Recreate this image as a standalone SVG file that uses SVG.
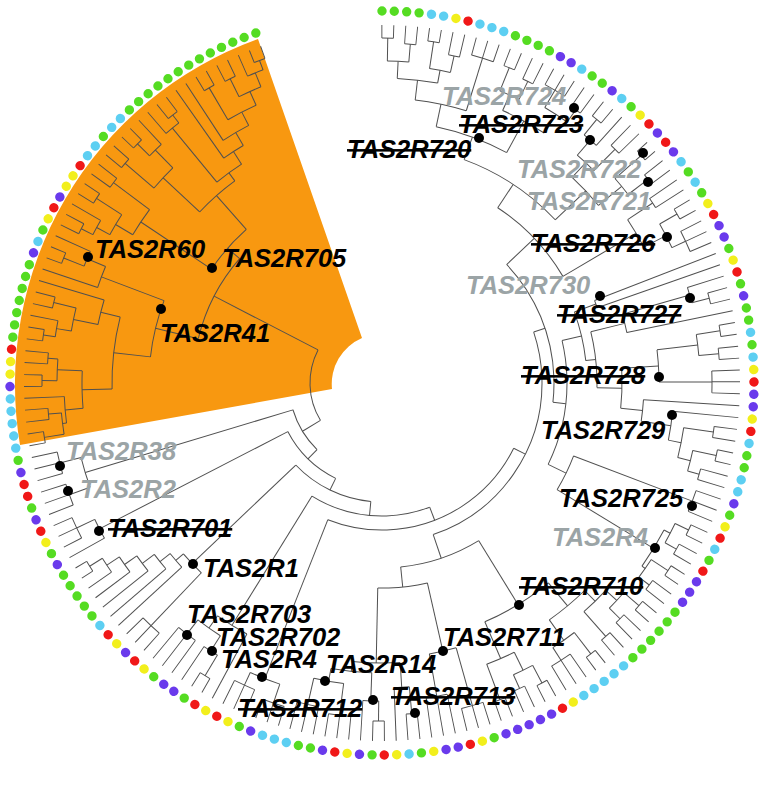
<svg xmlns="http://www.w3.org/2000/svg" width="772" height="791" viewBox="0 0 772 791">
<style>
text{font-family:"Liberation Sans",Arial,sans-serif;font-weight:bold;font-style:italic;font-size:25.5px}
.k{fill:#000}
.g{fill:#9ba4a6}
.s{text-decoration:line-through}
.nd{fill:#000}
#connectors{fill:none;stroke:#505050;stroke-width:1}
#tips circle{fill:none;stroke-width:9.4;stroke-linecap:round}
</style>
<rect width="772" height="791" fill="#fff"/>
<path id="clade-highlight" d="M20 445A367 367 0 0 1 258 39L362 338A50 50 0 0 0 332 389Z" fill="#f89810"/>
<g id="connectors" transform="translate(382 383) rotate(-91.911)">
<g id="arcs">
<circle r="345" pathLength="188.383" stroke-dasharray="0 1 1 3 1 20 1 98 1 52 1 999"/>
<circle r="342" pathLength="188.383" stroke-dasharray="0 43 1 10 1 10 1 9 1 35 1 25 1 8 1 6 1 11 1 7 1 999"/>
<circle r="340" pathLength="188.383" stroke-dasharray="0 3 1 5 2 1 1 3 2 3 1 10 1 28 1 7 1 10 1 61 1 16 1 9 1 5 1 999"/>
<circle r="338" pathLength="188.383" stroke-dasharray="0 40 1 4 1 17 1 9 1 10 1 10 1 8 2 22 2 19 1 6 1 6 1 999"/>
<circle r="335" pathLength="188.383" stroke-dasharray="0 7 1 6 1 4 1 8 1 5 2 16 1 14 1 3 1 10 1 3 2 10 2 17 2 20 1 4 1 16 1 15 1.5 999"/>
<circle r="332" pathLength="188.383" stroke-dasharray="0 58 2 32 1 14 2 22 2 1 2 999"/>
<circle r="330" pathLength="188.383" stroke-dasharray="0 24 1 22 2 7 1 20 2 22 2 21 1.5 21 1.5 20 1.5 999"/>
<circle r="325" pathLength="188.383" stroke-dasharray="0 30 1 30.5 2 79 2 12 1.5 7.5 1.5 999"/>
<circle r="322" pathLength="188.383" stroke-dasharray="0 1.5 2 62 2 70 2 999"/>
<circle r="320" pathLength="188.383" stroke-dasharray="0 17 2.5 2 1.5 9.5 2.5 4 1.5 29 2 9 2 71 1.5 20.5 2.25 999"/>
<circle r="318" pathLength="188.383" stroke-dasharray="0 5.5 2 36 2 9 2 6 4 22.5 2 4.5 1.5 8 3 3.5 1.5 1 2 11 2 9.5 2.5 999"/>
<circle r="315" pathLength="188.383" stroke-dasharray="0 12.5 2 61 2.5 45 1.75 22.5 2.25 999"/>
<circle r="310" pathLength="188.383" stroke-dasharray="0 26.5 2 103.5 3 22.25 2.25 999"/>
<circle r="305" pathLength="188.383" stroke-dasharray="0 2.5 4 46 3 15 3 19 1.5 79.5 3.125 999"/>
<circle r="303" pathLength="188.383" stroke-dasharray="0 99 3 999"/>
<circle r="300" pathLength="188.383" stroke-dasharray="0 22.25 2.25 57 3 27.75 2.75 7 1.875 15.875 3.75 8.5 2.25 9.25 2.75 999"/>
<circle r="298" pathLength="188.383" stroke-dasharray="0 13.5 4.75 999"/>
<circle r="295" pathLength="188.383" stroke-dasharray="0 30.5 3.25 999"/>
<circle r="292" pathLength="188.383" stroke-dasharray="0 51 3 999"/>
<circle r="290" pathLength="188.383" stroke-dasharray="0 72 4.75 19.5 4.25 47.875 2.625 7.375 3.125 10.5 3.0625 999"/>
<circle r="285" pathLength="188.383" stroke-dasharray="0 4.5 5.5 100 3.625 7.375 1.9375 999"/>
<circle r="280" pathLength="188.383" stroke-dasharray="0 23.375 4.125 65.75 5.125 999"/>
<circle r="277" pathLength="188.383" stroke-dasharray="0 44.5 3.5 999"/>
<circle r="275" pathLength="188.383" stroke-dasharray="0 87 3 81 2.53 999"/>
<circle r="272" pathLength="188.383" stroke-dasharray="0 120 1.97 999"/>
<circle r="270" pathLength="188.383" stroke-dasharray="0 141.625 8.0625 999"/>
<circle r="262" pathLength="188.383" stroke-dasharray="0 7.25 8.625 34.125 2.5 65.5 2.985 999"/>
<circle r="260" pathLength="188.383" stroke-dasharray="0 74.375 8.625 85.75 3.52 999"/>
<circle r="250" pathLength="188.383" stroke-dasharray="0 39.75 2.25 122.875 5.635 999"/>
<circle r="240" pathLength="188.383" stroke-dasharray="0 46.25 5 999"/>
<circle r="238" pathLength="188.383" stroke-dasharray="0 11.5625 13.875 999"/>
<circle r="233" pathLength="188.383" stroke-dasharray="0 145.656 7.469 999"/>
<circle r="228" pathLength="188.383" stroke-dasharray="0 37 1 999"/>
<circle r="215" pathLength="188.383" stroke-dasharray="0 40.875 7.875 999"/>
<circle r="210" pathLength="188.383" stroke-dasharray="0 18.5 13.625 999"/>
<circle r="205" pathLength="188.383" stroke-dasharray="0 37.5 7.3125 14.1875 5.5 24 7.3125 64.125 7.7525 999"/>
<circle r="189" pathLength="188.383" stroke-dasharray="0 149.39 14.42 999"/>
<circle r="185" pathLength="188.383" stroke-dasharray="0 41.156 20.594 16.9375 13.4685 999"/>
<circle r="172" pathLength="188.383" stroke-dasharray="0 25.3125 26.14 999"/>
<circle r="160" pathLength="188.383" stroke-dasharray="0 38.38 47.04 999"/>
<circle r="147" pathLength="188.383" stroke-dasharray="0 61.9 44.6 999"/>
<circle r="133" pathLength="188.383" stroke-dasharray="0 84.2 27.6125 999"/>
<circle r="119" pathLength="188.383" stroke-dasharray="0 98.01 21.48 999"/>
<circle r="106" pathLength="188.383" stroke-dasharray="0 108.75 19.25 999"/>
<circle r="93" pathLength="188.383" stroke-dasharray="0 118.375 15.125 999"/>
<circle r="72" pathLength="188.383" stroke-dasharray="0 125.94 30.66 999"/>
</g>
<g id="stems">
<path d="M322 0H345" transform="rotate(2.867)"/>
<path d="M322 0H340" transform="rotate(6.689)"/>
<path d="M305 0H322" transform="rotate(4.778)"/>
<path d="M318 0H345" transform="rotate(10.511)"/>
<path d="M318 0H335" transform="rotate(14.333)"/>
<path d="M305 0H318" transform="rotate(12.422)"/>
<path d="M285 0H305" transform="rotate(8.6)"/>
<path d="M285 0H340" transform="rotate(19.11)"/>
<path d="M262 0H285" transform="rotate(13.855)"/>
<path d="M315 0H340" transform="rotate(23.888)"/>
<path d="M315 0H335" transform="rotate(27.71)"/>
<path d="M298 0H315" transform="rotate(25.799)"/>
<path d="M320 0H340" transform="rotate(32.487)"/>
<path d="M320 0H335" transform="rotate(37.265)"/>
<path d="M298 0H320" transform="rotate(34.876)"/>
<path d="M262 0H298" transform="rotate(30.337)"/>
<path d="M238 0H262" transform="rotate(22.096)"/>
<path d="M320 0H340" transform="rotate(41.087)"/>
<path d="M300 0H320" transform="rotate(42.52)"/>
<path d="M300 0H330" transform="rotate(46.82)"/>
<path d="M280 0H300" transform="rotate(44.67)"/>
<path d="M310 0H345" transform="rotate(50.642)"/>
<path d="M310 0H335" transform="rotate(54.464)"/>
<path d="M280 0H310" transform="rotate(52.553)"/>
<path d="M238 0H280" transform="rotate(48.611)"/>
<path d="M210 0H238" transform="rotate(35.354)"/>
<path d="M295 0H325" transform="rotate(58.286)"/>
<path d="M320 0H340" transform="rotate(62.108)"/>
<path d="M320 0H335" transform="rotate(66.885)"/>
<path d="M295 0H320" transform="rotate(64.496)"/>
<path d="M210 0H295" transform="rotate(61.391)"/>
<path d="M172 0H210" transform="rotate(48.372)"/>
<path d="M205 0H228" transform="rotate(71.663)"/>
<path d="M320 0H338" transform="rotate(77.396)"/>
<path d="M250 0H320" transform="rotate(75.962)"/>
<path d="M215 0H250" transform="rotate(78.112)"/>
<path d="M318 0H342" transform="rotate(83.129)"/>
<path d="M318 0H338" transform="rotate(86.951)"/>
<path d="M277 0H318" transform="rotate(85.04)"/>
<path d="M277 0H330" transform="rotate(91.728)"/>
<path d="M240 0H277" transform="rotate(88.384)"/>
<path d="M305 0H335" transform="rotate(100.328)"/>
<path d="M318 0H342" transform="rotate(104.15)"/>
<path d="M318 0H330" transform="rotate(107.972)"/>
<path d="M305 0H318" transform="rotate(106.061)"/>
<path d="M292 0H305" transform="rotate(103.194)"/>
<path d="M262 0H292" transform="rotate(100.328)"/>
<path d="M240 0H262" transform="rotate(97.939)"/>
<path d="M215 0H240" transform="rotate(93.161)"/>
<path d="M205 0H215" transform="rotate(85.637)"/>
<path d="M185 0H205" transform="rotate(78.649)"/>
<path d="M205 0H332" transform="rotate(112.749)"/>
<path d="M325 0H340" transform="rotate(117.527)"/>
<path d="M325 0H338" transform="rotate(121.349)"/>
<path d="M318 0H325" transform="rotate(119.438)"/>
<path d="M322 0H342" transform="rotate(125.171)"/>
<path d="M322 0H335" transform="rotate(128.993)"/>
<path d="M318 0H322" transform="rotate(127.082)"/>
<path d="M205 0H318" transform="rotate(123.26)"/>
<path d="M185 0H205" transform="rotate(118.004)"/>
<path d="M172 0H185" transform="rotate(98.327)"/>
<path d="M320 0H340" transform="rotate(132.815)"/>
<path d="M320 0H335" transform="rotate(136.637)"/>
<path d="M305 0H320" transform="rotate(134.726)"/>
<path d="M305 0H338" transform="rotate(140.459)"/>
<path d="M290 0H305" transform="rotate(137.592)"/>
<path d="M315 0H342" transform="rotate(144.281)"/>
<path d="M315 0H330" transform="rotate(149.058)"/>
<path d="M290 0H315" transform="rotate(146.669)"/>
<path d="M260 0H290" transform="rotate(142.13)"/>
<path d="M320 0H340" transform="rotate(153.836)"/>
<path d="M320 0H335" transform="rotate(157.658)"/>
<path d="M300 0H320" transform="rotate(155.747)"/>
<path d="M300 0H338" transform="rotate(161.48)"/>
<path d="M260 0H300" transform="rotate(158.613)"/>
<path d="M185 0H260" transform="rotate(150.371)"/>
<path d="M275 0H335" transform="rotate(166.257)"/>
<path d="M275 0H318" transform="rotate(171.99)"/>
<path d="M205 0H275" transform="rotate(169.124)"/>
<path d="M305 0H332" transform="rotate(176.768)"/>
<path d="M280 0H305" transform="rotate(178.2)"/>
<path d="M318 0H338" transform="rotate(182.501)"/>
<path d="M290 0H318" transform="rotate(183.934)"/>
<path d="M303 0H335" transform="rotate(189.189)"/>
<path d="M303 0H330" transform="rotate(194.922)"/>
<path d="M290 0H303" transform="rotate(192.056)"/>
<path d="M280 0H290" transform="rotate(187.995)"/>
<path d="M205 0H280" transform="rotate(183.098)"/>
<path d="M185 0H205" transform="rotate(176.11)"/>
<path d="M160 0H185" transform="rotate(163.238)"/>
<path d="M318 0H338" transform="rotate(200.655)"/>
<path d="M318 0H332" transform="rotate(206.388)"/>
<path d="M147 0H318" transform="rotate(203.522)"/>
<path d="M318 0H342" transform="rotate(213.077)"/>
<path d="M300 0H318" transform="rotate(214.51)"/>
<path d="M300 0H318" transform="rotate(219.765)"/>
<path d="M285 0H300" transform="rotate(217.137)"/>
<path d="M133 0H285" transform="rotate(213.674)"/>
<path d="M262 0H335" transform="rotate(225.498)"/>
<path d="M330 0H345" transform="rotate(239.831)"/>
<path d="M315 0H330" transform="rotate(238.397)"/>
<path d="M300 0H315" transform="rotate(236.725)"/>
<path d="M285 0H300" transform="rotate(234.934)"/>
<path d="M272 0H285" transform="rotate(233.085)"/>
<path d="M262 0H272" transform="rotate(231.202)"/>
<path d="M119 0H262" transform="rotate(228.345)"/>
<path d="M318 0H338" transform="rotate(246.519)"/>
<path d="M106 0H318" transform="rotate(244.608)"/>
<path d="M310 0H332" transform="rotate(252.252)"/>
<path d="M310 0H332" transform="rotate(257.985)"/>
<path d="M93 0H310" transform="rotate(255.119)"/>
<path d="M322 0H342" transform="rotate(262.763)"/>
<path d="M322 0H335" transform="rotate(266.585)"/>
<path d="M318 0H322" transform="rotate(264.674)"/>
<path d="M300 0H318" transform="rotate(267.062)"/>
<path d="M325 0H340" transform="rotate(272.318)"/>
<path d="M325 0H335" transform="rotate(276.14)"/>
<path d="M300 0H325" transform="rotate(274.229)"/>
<path d="M270 0H300" transform="rotate(270.645)"/>
<path d="M330 0H342" transform="rotate(279.962)"/>
<path d="M315 0H330" transform="rotate(281.395)"/>
<path d="M315 0H338" transform="rotate(285.695)"/>
<path d="M290 0H315" transform="rotate(283.545)"/>
<path d="M270 0H290" transform="rotate(286.053)"/>
<path d="M233 0H270" transform="rotate(278.349)"/>
<path d="M320 0H342" transform="rotate(293.339)"/>
<path d="M300 0H320" transform="rotate(294.772)"/>
<path d="M233 0H300" transform="rotate(292.622)"/>
<path d="M189 0H233" transform="rotate(285.484)"/>
<path d="M325 0H338" transform="rotate(299.072)"/>
<path d="M310 0H325" transform="rotate(300.505)"/>
<path d="M310 0H340" transform="rotate(304.805)"/>
<path d="M290 0H310" transform="rotate(302.655)"/>
<path d="M290 0H335" transform="rotate(308.627)"/>
<path d="M205 0H290" transform="rotate(305.641)"/>
<path d="M300 0H338" transform="rotate(312.449)"/>
<path d="M325 0H342" transform="rotate(316.271)"/>
<path d="M300 0H325" transform="rotate(317.704)"/>
<path d="M250 0H300" transform="rotate(315.076)"/>
<path d="M330 0H340" transform="rotate(323.915)"/>
<path d="M260 0H330" transform="rotate(322.481)"/>
<path d="M320 0H340" transform="rotate(335.381)"/>
<path d="M335 0H345" transform="rotate(341.114)"/>
<path d="M320 0H335" transform="rotate(339.68)"/>
<path d="M305 0H320" transform="rotate(337.53)"/>
<path d="M305 0H342" transform="rotate(331.559)"/>
<path d="M290 0H305" transform="rotate(334.544)"/>
<path d="M275 0H290" transform="rotate(331.616)"/>
<path d="M260 0H275" transform="rotate(329.208)"/>
<path d="M250 0H260" transform="rotate(325.845)"/>
<path d="M205 0H250" transform="rotate(320.456)"/>
<path d="M189 0H205" transform="rotate(313.041)"/>
<path d="M72 0H189" transform="rotate(299.263)"/>
<path d="M160 0H172" transform="rotate(73.344)"/>
<path d="M147 0H160" transform="rotate(118.291)"/>
<path d="M133 0H147" transform="rotate(160.906)"/>
<path d="M119 0H133" transform="rotate(187.297)"/>
<path d="M106 0H119" transform="rotate(207.821)"/>
<path d="M93 0H106" transform="rotate(226.215)"/>
<path d="M72 0H93" transform="rotate(240.671)"/>
</g>
<g id="leaf-branches">
<path d="M228 0H358" transform="rotate(70.707)"/>
<path d="M228 0H358" transform="rotate(72.618)"/>
<path d="M250 0H358" transform="rotate(80.262)"/>
<path d="M262 0H358" transform="rotate(95.55)"/>
<path d="M292 0H358" transform="rotate(97.461)"/>
<path d="M305 0H358" transform="rotate(179.634)"/>
<path d="M285 0H358" transform="rotate(210.21)"/>
<path d="M272 0H358" transform="rotate(229.32)"/>
<path d="M285 0H358" transform="rotate(231.231)"/>
<path d="M300 0H358" transform="rotate(233.142)"/>
<path d="M315 0H358" transform="rotate(235.053)"/>
<path d="M290 0H358" transform="rotate(288.561)"/>
<path d="M300 0H358" transform="rotate(290.472)"/>
<path d="M275 0H358" transform="rotate(326.781)"/>
<path d="M290 0H358" transform="rotate(328.692)"/>
<circle r="351.5" stroke-width="13" pathLength="188.383" stroke-dasharray="0 0.96 .08 .92 .08 2.92 .08 .92 .08 19.92 .08 .92 .08 97.92 .08 .92 .08 51.92 .08 .92 .08 999"/>
<circle r="350" stroke-width="16" pathLength="188.383" stroke-dasharray="0 42.96 .08 .92 .08 9.92 .08 .92 .08 9.92 .08 .92 .08 8.92 .08 .92 .08 34.92 .08 .92 .08 24.92 .08 .92 .08 7.92 .08 .92 .08 5.92 .08 .92 .08 10.92 .08 .92 .08 6.92 .08 .92 .08 999"/>
<circle r="349" stroke-width="18" pathLength="188.383" stroke-dasharray="0 2.96 .08 .92 .08 4.92 .08 .92 .08 .92 .08 .92 .08 .92 .08 2.92 .08 .92 .08 .92 .08 2.92 .08 .92 .08 9.92 .08 .92 .08 27.92 .08 .92 .08 6.92 .08 .92 .08 9.92 .08 .92 .08 60.92 .08 .92 .08 15.92 .08 .92 .08 8.92 .08 .92 .08 4.92 .08 .92 .08 999"/>
<circle r="348" stroke-width="20" pathLength="188.383" stroke-dasharray="0 39.96 .08 .92 .08 3.92 .08 .92 .08 16.92 .08 .92 .08 8.92 .08 .92 .08 9.92 .08 .92 .08 9.92 .08 .92 .08 7.92 .08 .92 .08 .92 .08 21.92 .08 .92 .08 .92 .08 18.92 .08 .92 .08 5.92 .08 .92 .08 5.92 .08 .92 .08 999"/>
<circle r="346.5" stroke-width="23" pathLength="188.383" stroke-dasharray="0 6.96 .08 .92 .08 5.92 .08 .92 .08 3.92 .08 .92 .08 7.92 .08 .92 .08 4.92 .08 .92 .08 .92 .08 15.92 .08 .92 .08 13.92 .08 .92 .08 2.92 .08 .92 .08 9.92 .08 .92 .08 2.92 .08 .92 .08 .92 .08 9.92 .08 .92 .08 .92 .08 16.92 .08 .92 .08 .92 .08 19.92 .08 .92 .08 3.92 .08 .92 .08 15.92 .08 .92 .08 14.92 .08 999"/>
<circle r="345" stroke-width="26" pathLength="188.383" stroke-dasharray="0 57.96 .08 .92 .08 .92 .08 31.92 .08 .92 .08 13.92 .08 .92 .08 .92 .08 21.92 .08 .92 .08 .92 .08 .92 .08 .92 .08 .92 .08 999"/>
<circle r="344" stroke-width="28" pathLength="188.383" stroke-dasharray="0 23.96 .08 .92 .08 21.92 .08 .92 .08 .92 .08 6.92 .08 .92 .08 19.92 .08 .92 .08 .92 .08 21.92 .08 .92 .08 .92 .08 20.92 .08 23.92 .08 19.92 .08 999"/>
<circle r="341.5" stroke-width="33" pathLength="188.383" stroke-dasharray="0 29.96 .08 .92 .08 126.92 .08 8.92 .08 999"/>
<circle r="339" stroke-width="38" pathLength="188.383" stroke-dasharray="0 22.96 .08 15.92 .08 115.92 .08 999"/>
<circle r="338" stroke-width="40" pathLength="188.383" stroke-dasharray="0 88.96 .08 .92 .08 .92 .08 5.92 .08 15.92 .08 .92 .08 .92 .08 .92 .08 10.92 .08 13.92 .08 999"/>
</g>
</g>
<g id="tips" transform="translate(382 383) rotate(-91.911)">
<circle r="372" stroke="#55dc22" pathLength="188.383" transform="rotate(1.911)" stroke-dasharray="0 1 0 1 0 1 0 8 0 1 0 1 0 1 0 4 0 1 0 3 0 7 0 2 0 5 0 3 0 2 0 1 0 2 0 9 0 1 0 4 0 4 0 5 0 1 0 1 0 1 0 1 0 1 0 13 0 6 0 4 0 5 0 1 0 5 0 5 0 3 0 7 0 1 0 1 0 1 0 1 0 2 0 4 0 4 0 10 0 1 0 1 0 1 0 1 0 1 0 1 0 3 0 9 0 3 0 1 0 1 0 1 0 1 0 1 0 1 0 1 0 1 0 1 0 1 0 1 0 1 0 999"/>
<circle r="372" stroke="#5dcff2" pathLength="188.383" transform="rotate(9.555)" stroke-dasharray="0 1 0 3 0 1 0 1 0 7 0 4 0 7 0 2 0 13 0 2 0 7 0 3 0 1 0 5 0 12 0 1 0 1 0 1 0 1 0 15 0 10 0 1 0 1 0 16 0 16 0 1 0 1 0 1 0 1 0 13 0 8 0 1 0 2 0 1 0 999"/>
<circle r="372" stroke="#f2ef1c" pathLength="188.383" transform="rotate(13.377)" stroke-dasharray="0 17 0 9 0 5 0 9 0 4 0 9 0 19 0 8 0 4 0 3 0 4 0 10 0 2 0 6 0 3 0 10 0 14 0 1 0 12 0 3 0 1 0 999"/>
<circle r="372" stroke="#f01818" pathLength="188.383" transform="rotate(15.288)" stroke-dasharray="0 17 0 2 0 7 0 5 0 9 0 4 0 9 0 3 0 16 0 8 0 7 0 4 0 10 0 2 0 6 0 3 0 10 0 3 0 1 0 11 0 12 0 4 0 999"/>
<circle r="372" stroke="#6a3aec" pathLength="188.383" transform="rotate(30.576)" stroke-dasharray="0 1 0 4 0 5 0 2 0 7 0 1 0 5 0 8 0 1 0 8 0 7 0 1 0 1 0 14 0 1 0 1 0 1 0 1 0 4 0 1 0 7 0 3 0 6 0 7 0 1 0 4 0 9 0 4 0 4 0 7 0 11 0 5 0 999"/>
</g>
<g id="labels">
<g id="TAS2R60"><circle class="nd" cx="88" cy="257" r="5"/><text class="k" x="95" y="258">TAS2R60</text></g>
<g id="TAS2R705"><circle class="nd" cx="212" cy="268" r="5"/><text class="k" x="222" y="267">TAS2R705</text></g>
<g id="TAS2R41"><circle class="nd" cx="161" cy="309" r="5"/><text class="k" x="160" y="342">TAS2R41</text></g>
<g id="TAS2R38"><circle class="nd" cx="60" cy="466" r="5"/><text class="g" x="66" y="460">TAS2R38</text></g>
<g id="TAS2R2"><circle class="nd" cx="68" cy="491" r="5"/><text class="g" x="80" y="498">TAS2R2</text></g>
<g id="TAS2R701"><circle class="nd" cx="99" cy="531" r="5"/><text class="k s" x="108" y="537">TAS2R701</text></g>
<g id="TAS2R1"><circle class="nd" cx="193" cy="564" r="5"/><text class="k" x="203" y="577">TAS2R1</text></g>
<g id="TAS2R703"><circle class="nd" cx="187" cy="635" r="5"/><text class="k" x="187" y="623">TAS2R703</text></g>
<g id="TAS2R702"><circle class="nd" cx="212" cy="651" r="5"/><text class="k" x="216" y="646">TAS2R702</text></g>
<g id="TAS2R4-a"><circle class="nd" cx="262" cy="677" r="5"/><text class="k" x="221" y="668">TAS2R4</text></g>
<g id="TAS2R14"><circle class="nd" cx="325" cy="681" r="5"/><text class="k" x="326" y="673">TAS2R14</text></g>
<g id="TAS2R712"><circle class="nd" cx="373" cy="700" r="5"/><text class="k s" x="238" y="717">TAS2R712</text></g>
<g id="TAS2R713"><circle class="nd" cx="415" cy="713" r="5"/><text class="k s" x="391" y="705">TAS2R713</text></g>
<g id="TAS2R711"><circle class="nd" cx="443" cy="651" r="5"/><text class="k" x="443" y="646">TAS2R711</text></g>
<g id="TAS2R710"><circle class="nd" cx="519" cy="605" r="5"/><text class="k s" x="519" y="595">TAS2R710</text></g>
<g id="TAS2R4-b"><circle class="nd" cx="655" cy="548" r="5"/><text class="g" x="552" y="546">TAS2R4</text></g>
<g id="TAS2R725"><circle class="nd" cx="692" cy="506" r="5"/><text class="k" x="559" y="507">TAS2R725</text></g>
<g id="TAS2R729"><circle class="nd" cx="672" cy="415" r="5"/><text class="k" x="541" y="439">TAS2R729</text></g>
<g id="TAS2R728"><circle class="nd" cx="659" cy="377" r="5"/><text class="k s" x="521" y="384">TAS2R728</text></g>
<g id="TAS2R727"><circle class="nd" cx="690" cy="298" r="5"/><text class="k s" x="557" y="323">TAS2R727</text></g>
<g id="TAS2R730"><circle class="nd" cx="600" cy="296" r="5"/><text class="g" x="466" y="294">TAS2R730</text></g>
<g id="TAS2R726"><circle class="nd" cx="667" cy="237" r="5"/><text class="k s" x="531" y="252">TAS2R726</text></g>
<g id="TAS2R721"><circle class="nd" cx="648" cy="182" r="5"/><text class="g" x="527" y="210">TAS2R721</text></g>
<g id="TAS2R722"><circle class="nd" cx="643" cy="153" r="5"/><text class="g" x="517" y="178">TAS2R722</text></g>
<g id="TAS2R723"><circle class="nd" cx="590" cy="140" r="5"/><text class="k s" x="459" y="133">TAS2R723</text></g>
<g id="TAS2R724"><circle class="nd" cx="574" cy="108" r="5"/><text class="g" x="442" y="105">TAS2R724</text></g>
<g id="TAS2R720"><circle class="nd" cx="479" cy="138" r="5"/><text class="k s" x="347" y="158">TAS2R720</text></g>
</g>
</svg>
